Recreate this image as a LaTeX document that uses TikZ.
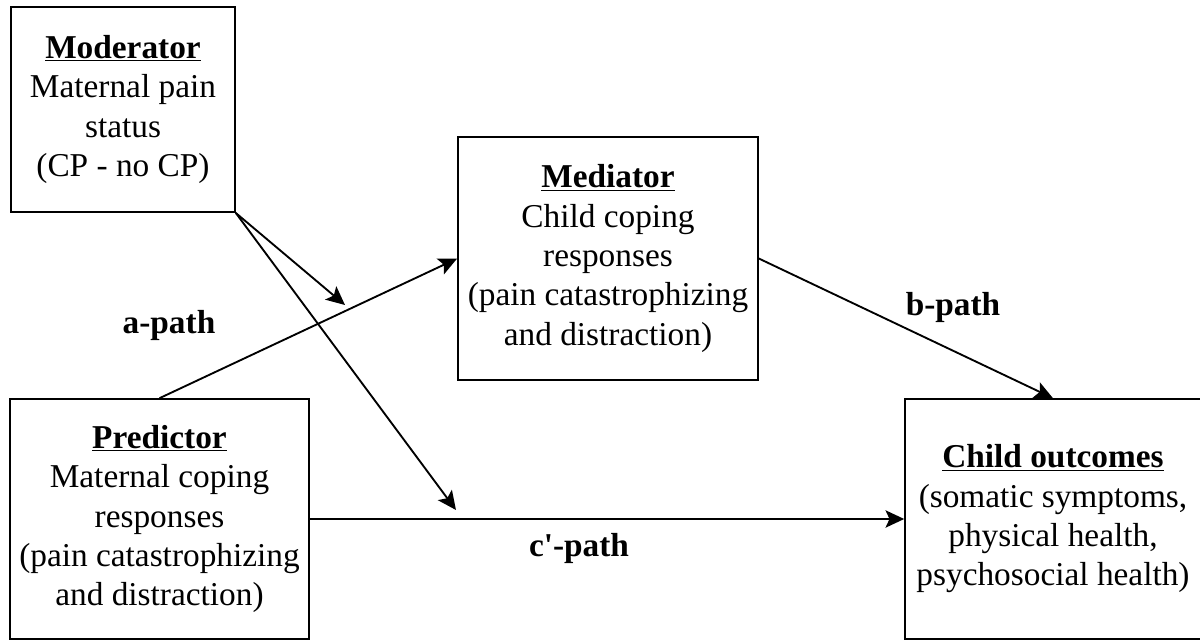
\documentclass[tikz,border=0pt]{standalone}
\usepackage{fontspec}
\setmainfont{Liberation Serif}
\usetikzlibrary{arrows.meta}

\begin{document}
\begin{tikzpicture}[x=0.75pt,y=0.75pt,yscale=-1,xscale=1,
  box/.style={draw,line width=1.2pt,align=center,inner sep=0pt,
    font=\fontsize{25}{29.5}\selectfont},
  arr/.style={line width=1.4pt,-{Stealth[length=14pt,width=13pt,inset=3pt]}},
  lbl/.style={font=\fontsize{25}{29.5}\selectfont\bfseries,inner sep=0pt}]
%set diagram size 1200 x 641
\useasboundingbox (0,0) rectangle (1200,641);

%Boxes
\node [box,minimum width=168pt,minimum height=154pt] (mod) at (123,109.5) {\underline{\textbf{Moderator}}\\Maternal pain\\status\\(CP - no CP)};
\node [box,minimum width=225pt,minimum height=182.25pt] (med) at (608,258.5) {\underline{\textbf{Mediator}}\\Child coping\\responses\\(pain catastrophizing\\and distraction)};
\node [box,minimum width=224.25pt,minimum height=180pt] (pred) at (159.5,519) {\underline{\textbf{Predictor}}\\Maternal coping\\responses\\(pain catastrophizing\\and distraction)};
\node [box,minimum width=222pt,minimum height=180pt] (out) at (1053,519) {\underline{\textbf{Child outcomes}}\\(somatic symptoms,\\physical health,\\psychosocial health)};

%Moderator arrow ends
\coordinate (t1) at (345,305);
\coordinate (t2) at (456,510);

%Arrows
\draw [arr] (mod.south east) -- (t1);
\draw [arr] (mod.south east) -- (t2);
\draw [arr] (pred.north) -- (med.west);
\draw [arr] (med.east) -- (out.north);
\draw [arr] (pred.east) -- (out.west);

% Text Node
\node [lbl] (apath) at (169,325) {a-path};
% Text Node
\node [lbl] (bpath) at (953,307) {b-path};
% Text Node
\node [lbl] (cpath) at (579,548) {c\textquotesingle-path};

\end{tikzpicture}
\end{document}
